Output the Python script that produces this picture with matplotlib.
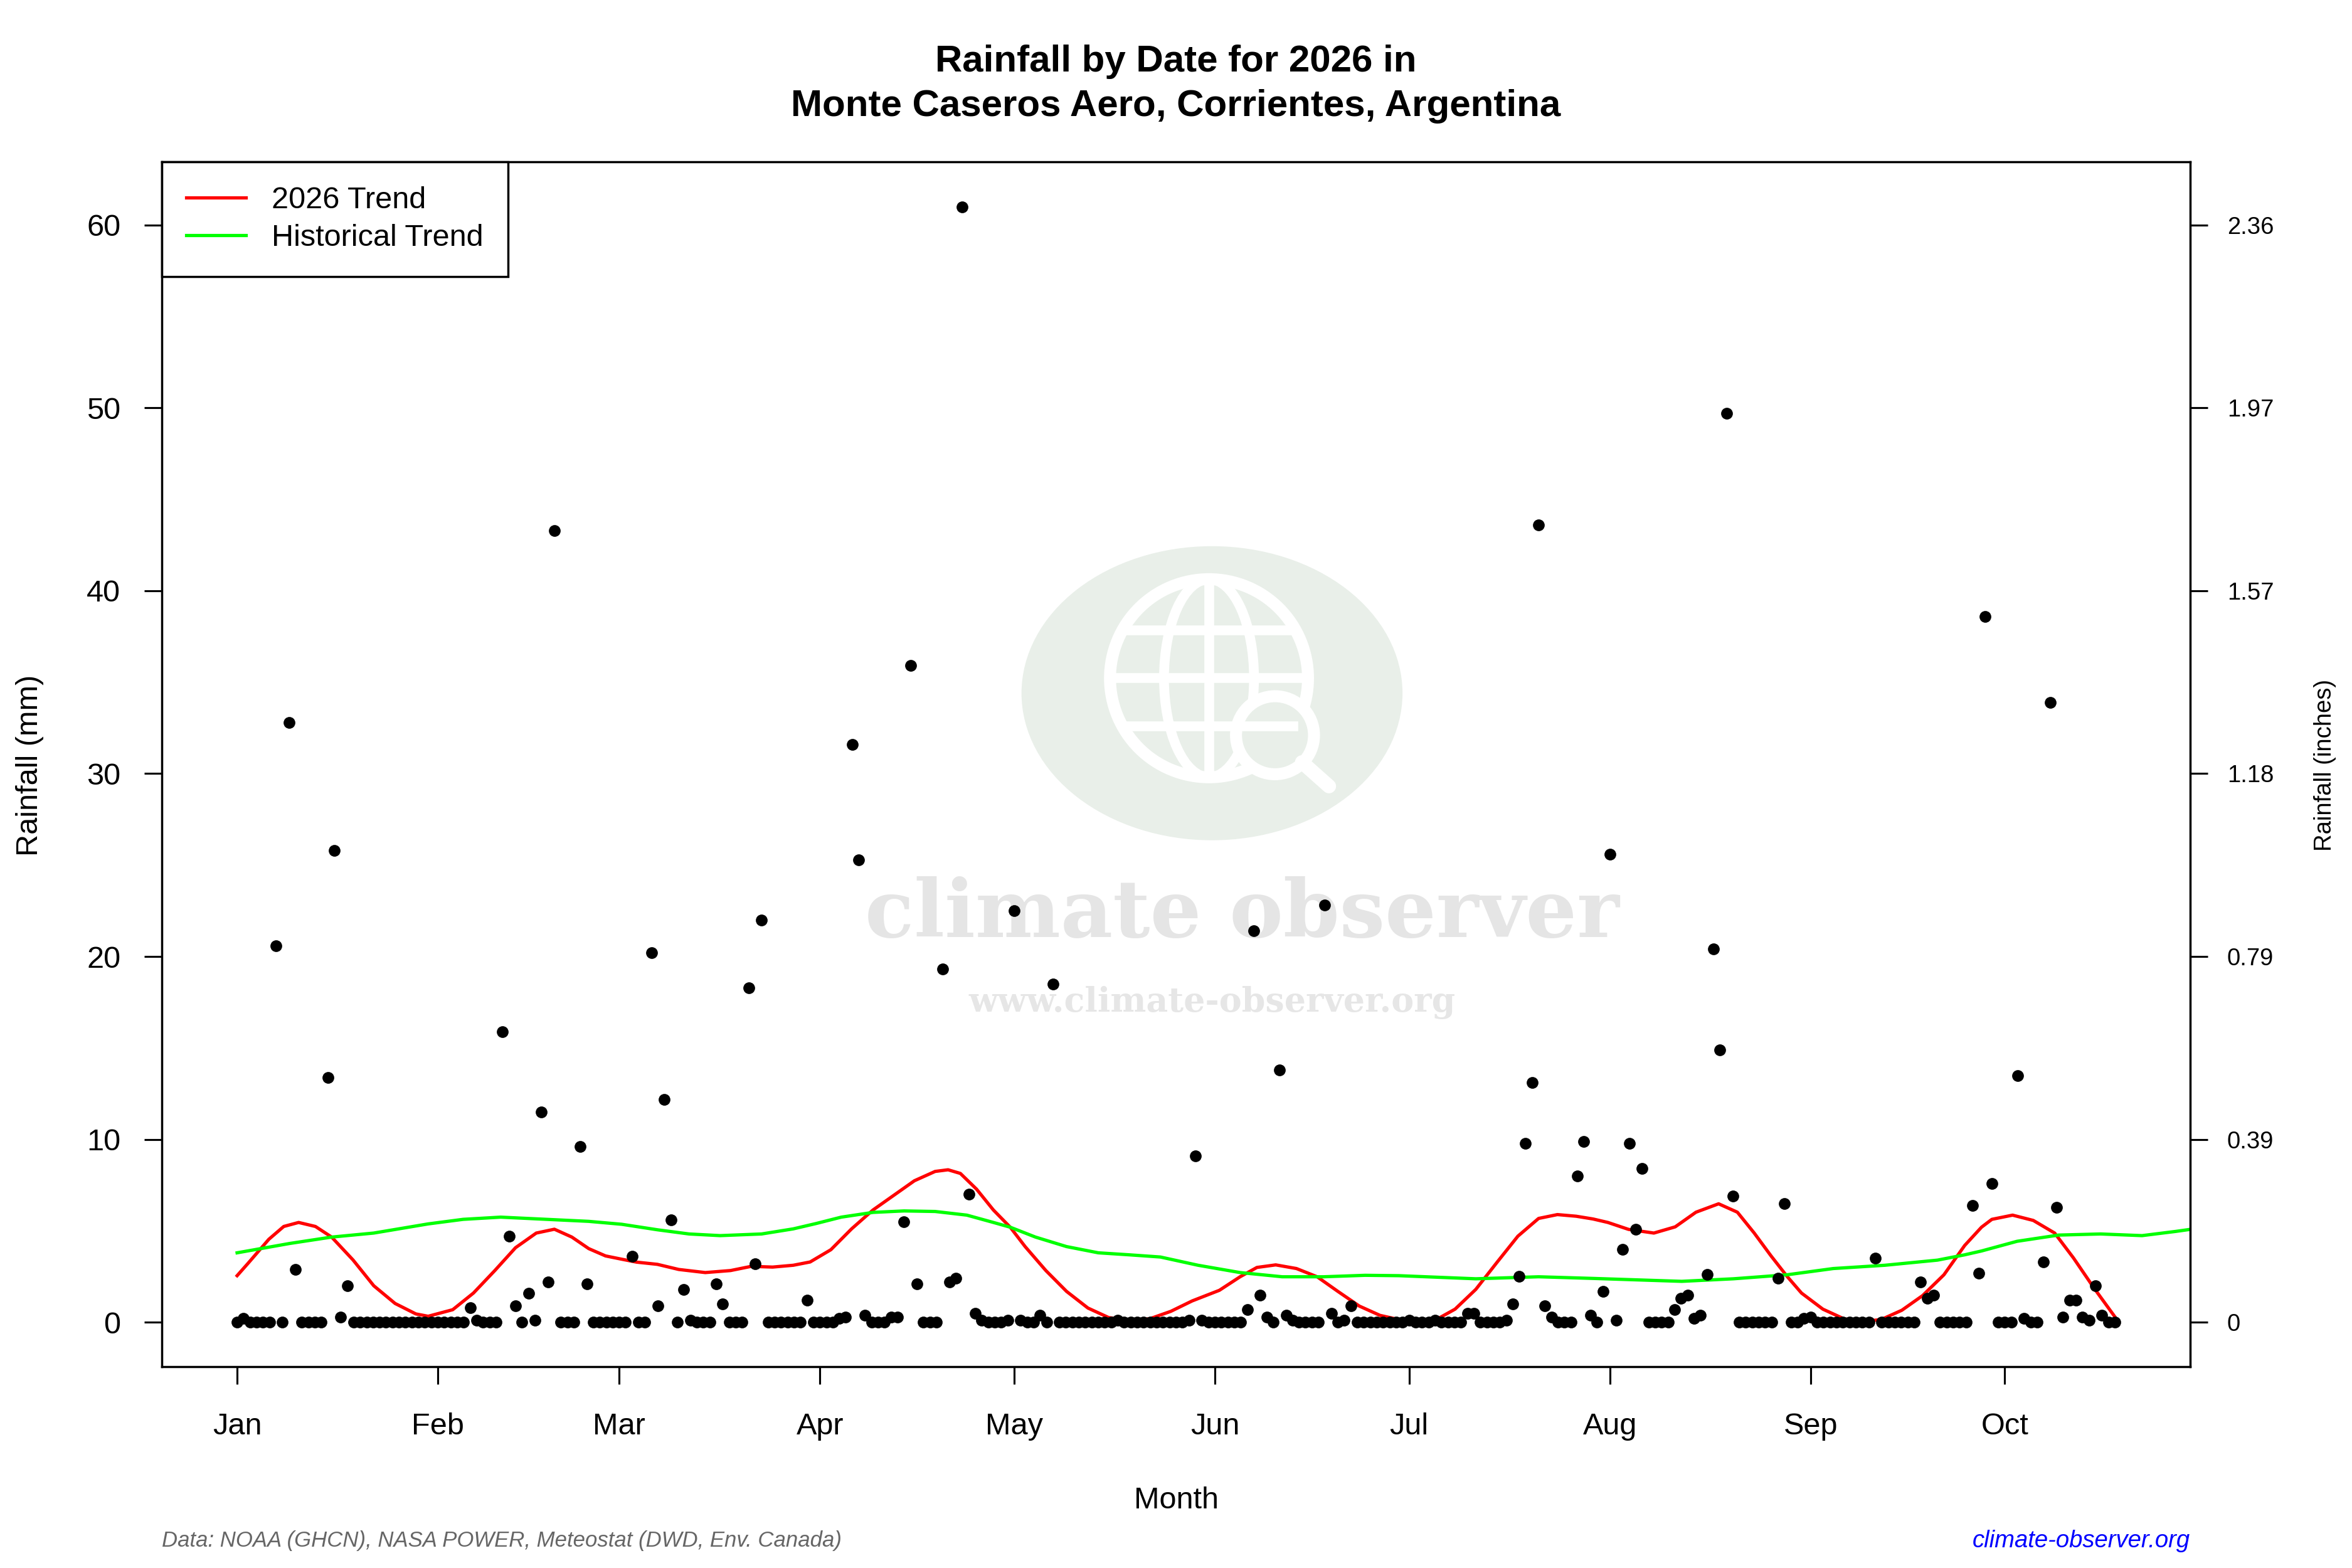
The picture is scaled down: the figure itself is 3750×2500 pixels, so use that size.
############ Packages ############
import numpy as np
import pandas as pd
import matplotlib
matplotlib.use("Agg")
import matplotlib.pyplot as plt
from matplotlib.patches import Ellipse, Circle

plt.rcParams['font.family'] = ['Liberation Sans', 'DejaVu Sans']

############ Daily rainfall 2026 (mm) ############
jan = [0, 0.2, 0, 0, 0, 0, 20.6, 0, 32.8, 2.9, 0, 0, 0, 0, 13.4, 25.8, 0.3, 2.0, 0, 0,
       0, 0, 0, 0, 0, 0, 0, 0, 0, 0, 0]
feb = [0, 0, 0, 0, 0, 0.8, 0.1, 0, 0, 0, 15.9, 4.7, 0.9, 0, 1.6, 0.1, 11.5, 2.2, 43.3, 0,
       0, 0, 9.6, 2.1, 0, 0, 0, 0]
mar = [0, 0, 3.6, 0, 0, 20.2, 0.9, 12.2, 5.6, 0, 1.8, 0.1, 0, 0, 0, 2.1, 1.0, 0, 0, 0,
       18.3, 3.2, 22.0, 0, 0, 0, 0, 0, 0, 1.2, 0]
apr = [0, 0, 0, 0.2, 0.3, 31.6, 25.3, 0.4, 0, 0, 0, 0.3, 0.3, 5.5, 35.9, 2.1, 0, 0, 0, 19.3,
       2.2, 2.4, 61.0, 7.0, 0.5, 0.1, 0, 0, 0, 0.1]
may = [22.5, 0.1, 0, 0, 0.4, 0, 18.5, 0, 0, 0, 0, 0, 0, 0, 0, 0, 0.1, 0, 0, 0,
       0, 0, 0, 0, 0, 0, 0, 0.1, 9.1, 0.1, 0]
jun = [0, 0, 0, 0, 0, 0.7, 21.4, 1.5, 0.3, 0, 13.8, 0.4, 0.1, 0, 0, 0, 0, 22.8, 0.5, 0,
       0.1, 0.9, 0, 0, 0, 0, 0, 0, 0, 0]
jul = [0.1, 0, 0, 0, 0.1, 0, 0, 0, 0, 0.5, 0.5, 0, 0, 0, 0, 0.1, 1.0, 2.5, 9.8, 13.1,
       43.6, 0.9, 0.3, 0, 0, 0, 8.0, 9.9, 0.4, 0, 1.7]
aug = [25.6, 0.1, 4.0, 9.8, 5.1, 8.4, 0, 0, 0, 0, 0.7, 1.3, 1.5, 0.2, 0.4, 2.6, 20.4, 14.9, 49.7, 6.9,
       0, 0, 0, 0, 0, 0, 2.4, 6.5, 0, 0, 0.2]
sep = [0.3, 0, 0, 0, 0, 0, 0, 0, 0, 0, 3.5, 0, 0, 0, 0, 0, 0, 2.2, 1.3, 1.5,
       0, 0, 0, 0, 0, 6.4, 2.7, 38.6, 7.6, 0]
oct = [0, 0, 13.5, 0.2, 0, 0, 3.3, 33.9, 6.3, 0.3, 1.2, 1.2, 0.3, 0.1, 2.0, 0.4, 0, 0]

rain = np.array(jan + feb + mar + apr + may + jun + jul + aug + sep + oct)
days = np.arange(len(rain))  # day of year, 0 = Jan 1

############ Trend lines (day of year, mm) ############
red_day = [0, 1.7, 4.9, 7.2, 9.5, 12.1, 14.6, 17.9, 21.1, 24.4, 27.6, 29.5, 33.3, 36.5, 39.8,
           43.0, 46.2, 49.0, 51.7, 54.3, 56.9, 59.4, 61.7, 64.9, 68.2, 72.3, 76.2, 79.4, 82.7,
           85.9, 88.5, 91.7, 94.9, 98.2, 101.4, 104.6, 107.8, 109.8, 111.7, 114.2, 116.8, 119.4,
           121.7, 124.9, 128.1, 131.4, 134.6, 138.1, 141.0, 144.2, 147.5, 151.7, 154.9, 157.5,
           160.4, 163.6, 166.8, 170.0, 173.3, 176.5, 179.4, 182.0, 184.9, 188.1, 191.3, 194.6,
           197.8, 201.0, 203.9, 206.8, 209.4, 211.7, 214.9, 218.8, 222.1, 225.3, 228.8, 231.7,
           234.3, 236.9, 239.4, 241.6, 244.9, 248.1, 250.7, 253.9, 257.1, 260.3, 263.6, 266.8,
           269.4, 271.0, 274.2, 277.4, 280.7, 283.6, 286.8, 290.0]
red_val = [2.55, 3.23, 4.54, 5.24, 5.46, 5.24, 4.66, 3.41, 2.0, 1.03, 0.46, 0.33, 0.69, 1.6, 2.83,
           4.08, 4.88, 5.09, 4.66, 4.03, 3.63, 3.45, 3.29, 3.17, 2.89, 2.72, 2.83, 3.06, 3.02,
           3.12, 3.3, 3.97, 5.11, 6.14, 6.94, 7.74, 8.25, 8.34, 8.14, 7.28, 6.14, 5.2,
           4.14, 2.83, 1.69, 0.78, 0.26, 0.09, 0.2, 0.6, 1.17, 1.75, 2.49, 3.0,
           3.14, 2.94, 2.49, 1.69, 0.89, 0.38, 0.15, 0.0, 0.09, 0.72, 1.8, 3.29,
           4.71, 5.68, 5.89, 5.8, 5.65, 5.46, 5.08, 4.88, 5.22, 6.02, 6.48, 6.02,
           4.88, 3.63, 2.5, 1.6, 0.72, 0.2, 0.03, 0.15, 0.66, 1.46, 2.6, 4.2,
           5.2, 5.63, 5.86, 5.57, 4.88, 3.52, 1.86, 0.3]

green_day = [0, 8.1, 14.6, 21.1, 29.5, 34.9, 40.7, 47.8, 54.3, 59.4, 64.9, 69.8, 74.6, 81.0, 85.9,
             89.4, 93.3, 98.2, 103.0, 107.8, 112.7, 116.8, 119.4, 123.3, 128.1, 133.0, 137.8,
             142.6, 148.4, 154.9, 161.4, 167.8, 174.2, 179.4, 191.3, 201.0, 209.4, 223.1, 231.1,
             239.4, 246.5, 254.5, 262.6, 266.8, 269.4, 274.9, 281.3, 287.8, 294.2, 299.4, 302.0]
green_val = [3.8, 4.31, 4.66, 4.88, 5.38, 5.63, 5.75, 5.63, 5.52, 5.36, 5.06, 4.83, 4.74, 4.83, 5.11,
             5.4, 5.75, 6.01, 6.09, 6.06, 5.86, 5.46, 5.2, 4.66, 4.14, 3.8, 3.69,
             3.57, 3.12, 2.72, 2.49, 2.49, 2.57, 2.55, 2.38, 2.49, 2.4, 2.24, 2.38,
             2.6, 2.94, 3.12, 3.4, 3.69, 3.9, 4.43, 4.77, 4.83, 4.74, 4.97, 5.1]

month_starts = pd.date_range("2026-01-01", "2026-10-01", freq="MS")
month_ticks = month_starts.dayofyear - 1
month_labels = month_starts.strftime("%b")
mm_ticks = [0, 10, 20, 30, 40, 50, 60]

############ Figure ############
W, H = 1568, 1045  # layout measured on a 1568 x 1045 view
fig = plt.figure(figsize=(15, 10), dpi=250)
box = [108 / W, 1 - 911 / H, (1460 - 108) / W, (911 - 108) / H]

# watermark behind the data
wm = fig.add_axes(box, zorder=0)
wm.set_xlim(108, 1460)
wm.set_ylim(911, 108)
wm.axis("off")
wm_bg = "#e9efe9"
wm.add_patch(Ellipse((808, 462), 254, 196, fc=wm_bg, ec="none"))
wm.add_patch(Circle((806, 452), 66, fc="none", ec="white", lw=5.5))
wm.add_patch(Ellipse((806, 452), 60, 132, fc="none", ec="white", lw=4.5))
wm.plot([740, 872], [452, 452], color="white", lw=4.5)
wm.plot([750, 862], [420, 420], color="white", lw=4.5)
wm.plot([750, 862], [484, 484], color="white", lw=4.5)
wm.plot([806, 806], [386, 518], color="white", lw=4.5)
wm.add_patch(Circle((850, 490), 26, fc=wm_bg, ec="white", lw=5.5))
wm.plot([868, 886], [508, 524], color="white", lw=6.5, solid_capstyle="round")
wm.text(828, 610, "climate observer", ha="center", va="center", fontsize=37,
        family="DejaVu Serif", weight="bold", color="#e5e5e5")
wm.text(808, 668, "www.climate-observer.org", ha="center", va="center", fontsize=15.5,
        family="DejaVu Serif", weight="bold", color="#e6e6e6")

ax = fig.add_axes(box, zorder=1)
ax.patch.set_visible(False)

ax.plot(days, rain, "o", ms=5.4, mew=0, color="black", zorder=3)
ax.plot(red_day, red_val, color="red", lw=1.5, label="2026 Trend", zorder=2)
ax.plot(green_day, green_val, color="#00ff00", lw=1.5, label="Historical Trend", zorder=2)

# R-style 4% padding
xpad = 0.04 * (days[-1] - days[0])
ypad = 0.04 * (rain.max() - 0)
ax.set_xlim(days[0] - xpad, days[-1] + xpad)
ax.set_ylim(0 - ypad, rain.max() + ypad)

ax.set_xticks(month_ticks)
ax.set_xticklabels(month_labels)
ax.set_yticks(mm_ticks)
ax.tick_params(axis="both", direction="out", length=8, width=0.9, labelsize=14, pad=11)
ax.tick_params(axis="x", pad=13)
for s in ax.spines.values():
    s.set_linewidth(1.0)

ax2 = ax.twinx()
ax2.set_ylim(ax.get_ylim())
ax2.set_yticks(mm_ticks)
ax2.set_yticklabels(["0" if v == 0 else "{:.2f}".format(v / 25.4) for v in mm_ticks])
ax2.tick_params(axis="y", direction="out", length=8, width=0.9, labelsize=11, pad=9)

leg = ax.legend(loc="upper left", bbox_to_anchor=(0, 1), borderaxespad=0, fontsize=14,
                frameon=True, fancybox=False, edgecolor="black", framealpha=1,
                handlelength=1.95, handletextpad=0.85, borderpad=0.8, labelspacing=0.3)
leg.get_frame().set_linewidth(1.0)

############ Texts ############
fig.text(0.5, 1 - 56 / H, "Rainfall by Date for 2026 in\nMonte Caseros Aero, Corrientes, Argentina",
         ha="center", va="center", fontsize=17.3, weight="bold", linespacing=1.38)
fig.text(784 / W, 1 - 1000 / H, "Month", ha="center", va="center", fontsize=14)
fig.text(20 / W, 1 - 510 / H, "Rainfall (mm)", ha="center", va="center", fontsize=14, rotation=90)
fig.text(1550 / W, 1 - 510 / H, "Rainfall (inches)", ha="center", va="center", fontsize=11, rotation=90)
fig.text(108 / W, 1 - 1027 / H, "Data: NOAA (GHCN), NASA POWER, Meteostat (DWD, Env. Canada)",
         ha="left", va="center", fontsize=10, style="italic", color="#666666")
fig.text(1460 / W, 1 - 1027 / H, "climate-observer.org", ha="right", va="center",
         fontsize=11, style="italic", color="blue")

fig.savefig("out.png", dpi=250)
